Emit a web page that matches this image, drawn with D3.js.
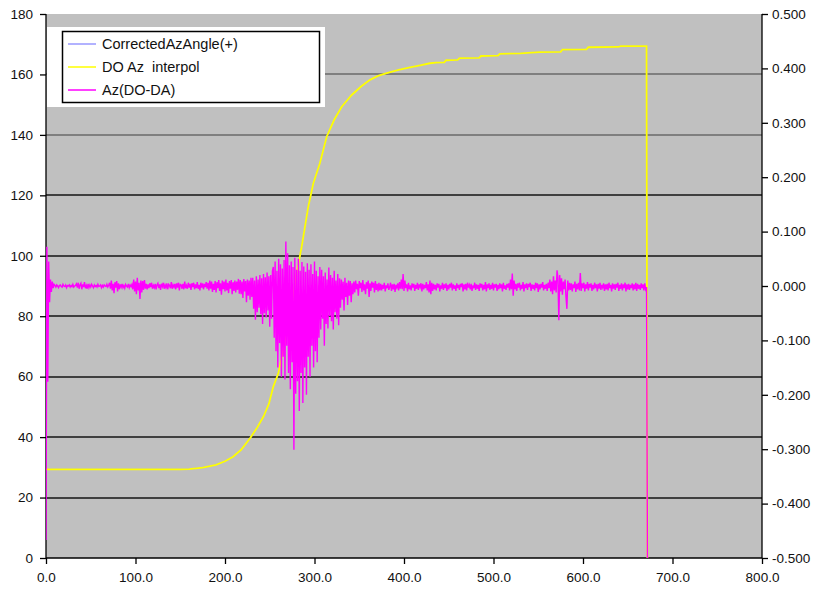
<!DOCTYPE html>
<html>
<head>
<meta charset="utf-8">
<script src="https://cdn.jsdelivr.net/npm/d3@7"></script>
<style>
  html, body { margin: 0; padding: 0; background: #fff; }
  svg text { font-family: "Liberation Sans", Arial, sans-serif; fill: #111; }
</style>
</head>
<body>
<svg id="chart" width="819" height="596"></svg>
<script>
// ---- data ----
const leftTicks = [0, 20, 40, 60, 80, 100, 120, 140, 160, 180];
const rightTicks = [-0.5, -0.4, -0.3, -0.2, -0.1, 0, 0.1, 0.2, 0.3, 0.4, 0.5];
const xTicks = [0, 100, 200, 300, 400, 500, 600, 700, 800];
const seriesNames = ["CorrectedAzAngle(+)", "DO Az  interpol", "Az(DO-DA)"];
const seriesColors = ["#9999ff", "#ffff00", "#ff00ff"];

// DO Az interpol (left axis, degrees)
const azX = [0, 150, 160, 175, 190, 200, 209, 218, 228, 236, 243, 249, 254, 259.6, 265, 272.6,
  280, 285.7, 293, 298.7, 306, 313.6, 322, 330.4, 341.6, 352, 362, 371, 380.7, 394, 406.7,
  418, 429, 436, 445, 447, 460, 462, 484, 486, 505, 507, 530, 551, 575, 577, 604, 606, 640,
  642, 671, 672];
const azY = [29.3, 29.3, 29.4, 29.9, 30.8, 32, 33.5, 35.8, 39.6, 43.2, 46.8, 51, 56.7, 61.1, 68.8, 79.8,
  94.2, 103, 116.2, 124, 130.6, 139.4, 145, 149.3, 153.2, 156, 158.2, 159.5, 160.4, 161.5, 162.3,
  163, 163.7, 163.9, 164.0, 164.7, 164.8, 165.4, 165.5, 166.1, 166.2, 166.8, 167.0, 167.4, 167.5,
  168.2, 168.3, 169.0, 169.1, 169.4, 169.4, 0];

// CorrectedAzAngle(+) follows the interpolated azimuth
const corrX = azX;
const corrY = azY;

// Az(DO-DA) (right axis), one sample per unit of x, starting at x = 0
const diffStep = 1;
const diffY = [
  // 0-9
  -0.467, 0.072, -0.176, 0.045, -0.030, 0.012, -0.011, 0.008, -0.004, 0.003,
  // 10-33
  0.001, -0.002, 0.002, 0.000, -0.003, 0.001, 0.002, -0.001, -0.002, 0.003,
  0.000, -0.001, 0.002, -0.003, 0.001, 0.000, 0.002, -0.002, 0.001, -0.001,
  0.003, -0.002, 0.000, 0.001,
  // 34-49
  0.004, -0.003, 0.006, -0.005, 0.002, 0.005, -0.006, 0.003, -0.002, 0.007,
  -0.004, 0.001, -0.005, 0.004, -0.003, 0.002,
  // 50-70
  -0.002, 0.003, 0.000, -0.003, 0.002, -0.001, 0.001, -0.002, 0.003, -0.001,
  0.000, 0.002, -0.003, 0.001, -0.002, 0.002, 0.000, -0.001, 0.003, -0.002,
  0.001,
  // 71-83
  0.006, -0.005, 0.010, -0.008, 0.004, -0.013, 0.007, -0.003, 0.009, -0.010,
  0.005, -0.006, 0.003,
  // 84-96
  -0.002, 0.004, -0.003, 0.001, -0.004, 0.003, 0.000, -0.002, 0.004, -0.003,
  0.002, -0.001, 0.003,
  // 97-113
  -0.006, 0.012, -0.010, 0.008, -0.015, 0.015, -0.008, 0.006, -0.024, 0.010,
  -0.012, 0.009, -0.007, 0.011, -0.005, 0.004, -0.006,
  // 114-180
  0.003, -0.004, 0.005, -0.002, 0.006, -0.005, 0.001, -0.003, 0.004, -0.006,
  0.002, 0.005, -0.004, 0.003, -0.007, 0.004, -0.001, 0.006, -0.005, 0.002,
  -0.003, 0.005, -0.006, 0.003, 0.001, -0.004, 0.007, -0.005, 0.002, -0.002,
  0.004, -0.006, 0.005, -0.003, 0.006, -0.008, 0.003, 0.002, -0.005, 0.004,
  -0.006, 0.008, -0.004, 0.001, -0.005, 0.006, -0.003, 0.004, -0.007, 0.005,
  -0.002, 0.006, -0.006, 0.003, -0.004, 0.007, -0.005, 0.002, -0.008, 0.006,
  -0.003, 0.005, -0.006, 0.004, -0.002, 0.007, -0.005,
  // 181-216
  0.006, -0.008, 0.010, -0.005, 0.008, -0.011, 0.004, -0.007, 0.009, -0.012,
  0.007, -0.004, 0.011, -0.009, 0.005, -0.016, 0.010, -0.006, 0.008, -0.010,
  0.012, -0.008, 0.006, -0.013, 0.009, -0.005, 0.011, -0.015, 0.007, -0.009,
  0.010, -0.012, 0.008, -0.007, 0.013, -0.014,
  // 217-230
  0.011, -0.015, 0.008, -0.022, 0.013, -0.010, 0.009, -0.030, 0.012, -0.018,
  0.010, -0.025, 0.015, -0.020,
  // 231-253
  0.015, -0.042, 0.010, -0.062, 0.018, -0.048, 0.012, -0.040, 0.020, -0.052,
  0.014, -0.070, 0.022, -0.050, 0.016, -0.058, 0.025, -0.045, 0.018, -0.075,
  0.020, -0.060, 0.028,
  // 254-264
  0.035, -0.095, 0.045, -0.120, 0.028, -0.150, 0.050, -0.105, 0.040, -0.167,
  0.032,
  // 265-272
  -0.130, 0.048, -0.172, 0.082, -0.110, 0.060, -0.160, 0.038,
  // 273-280
  -0.190, 0.045, -0.140, 0.035, -0.301, 0.052, -0.198, 0.030,
  // 281-292
  -0.175, 0.050, -0.230, 0.028, -0.160, 0.044, -0.215, 0.036, -0.150, 0.026,
  -0.200, 0.042,
  // 293-306
  -0.130, 0.030, -0.167, 0.040, -0.110, 0.022, -0.150, 0.045, -0.120, 0.028,
  -0.140, 0.018, -0.095, 0.035,
  // 307-328
  -0.080, 0.030, -0.060, 0.018, -0.110, 0.025, -0.070, 0.012, -0.078, 0.034,
  -0.055, 0.020, -0.065, 0.015, -0.080, 0.028, -0.048, 0.010, -0.060, 0.022,
  -0.072, 0.014,
  // 329-343
  -0.040, 0.012, -0.025, 0.008, -0.045, 0.015, -0.020, 0.006, -0.035, 0.010,
  -0.018, 0.009, -0.030, 0.005, -0.015,
  // 344-373
  0.008, -0.012, 0.010, -0.006, 0.004, -0.018, 0.009, -0.004, 0.006, -0.011,
  0.011, -0.008, 0.003, -0.015, 0.007, -0.005, 0.010, -0.020, 0.005, -0.009,
  0.008, -0.003, 0.006, -0.012, 0.009, -0.007, 0.004, -0.010, 0.006, -0.008,
  // 374-520
  0.004, -0.008, 0.002, -0.005, 0.006, -0.010, 0.001, -0.004, 0.005, -0.007,
  -0.002, 0.006, -0.009, 0.003, -0.006, 0.004, -0.011, 0.002, -0.003, 0.005,
  -0.008, 0.007, -0.005, 0.012, -0.006, 0.022, -0.009, 0.010, -0.004, 0.003,
  -0.010, 0.006, -0.006, 0.001, -0.008, 0.005, -0.003, 0.004, -0.009, 0.002,
  -0.005, 0.006, -0.007, 0.003, -0.002, 0.005, -0.010, 0.004, -0.006, 0.002,
  -0.004, 0.007, -0.008, 0.003, -0.012, 0.010, -0.015, 0.006, -0.009, 0.004,
  -0.006, 0.002, -0.008, 0.005, -0.003, 0.004, -0.010, 0.001, -0.005, 0.006,
  -0.007, 0.003, -0.004, 0.005, -0.009, 0.002, -0.006, 0.004, -0.003, 0.006,
  -0.008, 0.003, -0.005, 0.001, -0.009, 0.005, -0.004, 0.002, -0.007, 0.004,
  -0.002, 0.005, -0.010, 0.003, -0.006, 0.004, -0.008, 0.006, -0.003, 0.002,
  -0.006, 0.004, -0.009, 0.001, -0.004, 0.006, -0.007, 0.003, -0.005, 0.002,
  -0.009, 0.005, -0.003, 0.004, -0.008, 0.002, -0.006, 0.007, -0.010, 0.003,
  -0.004, 0.005, -0.007, 0.002, -0.005, 0.006, -0.008, 0.003, -0.003, 0.004,
  -0.009, 0.002, -0.006, 0.005, -0.004, 0.003, -0.010, 0.006, -0.005, 0.001,
  -0.007, 0.004, -0.003, 0.005, -0.008, 0.012, -0.006,
  // 521-523
  0.023, -0.018, 0.010,
  // 524-562
  -0.006, 0.004, -0.009, 0.005, -0.003, 0.006, -0.008, 0.002, -0.005, 0.007,
  -0.010, 0.003, -0.004, 0.005, -0.007, 0.004, -0.002, 0.006, -0.009, 0.003,
  -0.005, 0.002, -0.008, 0.006, -0.004, 0.005, -0.011, 0.003, -0.006, 0.004,
  -0.003, 0.007, -0.008, 0.002, -0.005, 0.004, -0.009, 0.006, -0.004,
  // 563-585
  0.012, -0.010, 0.008, -0.015, 0.018, -0.008, 0.010, -0.012, 0.029, 0.015,
  -0.063, 0.020, -0.010, 0.014, -0.016, 0.008, -0.006, 0.012, -0.020, -0.042,
  0.010, -0.008, 0.006,
  // 586-671
  -0.007, 0.005, -0.010, 0.003, -0.004, 0.008, -0.011, 0.004, -0.006, 0.006,
  -0.008, 0.024, -0.009, 0.005, -0.004, 0.006, -0.010, 0.003, -0.005, 0.007,
  -0.008, 0.004, -0.003, 0.005, -0.009, 0.002, -0.006, 0.006, -0.004, 0.003,
  -0.010, 0.004, -0.005, 0.006, -0.007, 0.002, -0.003, 0.005, -0.009, 0.003,
  -0.006, 0.004, -0.008, 0.006, -0.004, 0.002, -0.010, 0.005, -0.005, 0.003,
  -0.007, 0.004, -0.003, 0.006, -0.009, 0.002, -0.005, 0.005, -0.008, 0.003,
  -0.004, 0.006, -0.010, 0.003, -0.006, 0.004, -0.007, 0.002, -0.004, 0.005,
  -0.008, 0.003, -0.006, 0.006, -0.009, 0.004, -0.005, 0.002, -0.007, 0.005,
  -0.004, 0.003, -0.008, 0.005, -0.006, -0.002,
  // 672
  -0.500
];

// ---- layout ----
const svg = d3.select("#chart");
const plot = { left: 46, right: 762, top: 14, bottom: 558 };
const tickFont = 13.5;
const legendFont = 14.5;

const x = d3.scaleLinear().domain([0, 800]).range([plot.left, plot.right]);
const yL = d3.scaleLinear().domain([0, 180]).range([plot.bottom, plot.top]);
const yR = d3.scaleLinear().domain([-0.5, 0.5]).range([plot.bottom, plot.top]);

svg.append("rect").attr("width", 819).attr("height", 596).attr("fill", "#fff");

// plot area
svg.append("rect")
  .attr("x", plot.left).attr("y", plot.top)
  .attr("width", plot.right - plot.left).attr("height", plot.bottom - plot.top)
  .attr("fill", "#c0c0c0");

// horizontal gridlines
svg.append("g").selectAll("line")
  .data(leftTicks.filter(d => d > 0 && d < 180))
  .join("line")
  .attr("x1", plot.left).attr("x2", plot.right)
  .attr("y1", d => Math.round(yL(d))).attr("y2", d => Math.round(yL(d)))
  .attr("stroke", d => d >= 140 ? "#6a6a6a" : "#141414")
  .attr("stroke-width", 1.6);

// axes
const leftAxis = svg.append("g")
  .attr("transform", `translate(${plot.left},0)`)
  .call(d3.axisLeft(yL).tickValues(leftTicks).tickSize(6).tickPadding(7).tickFormat(d3.format("d")));
const rightAxis = svg.append("g")
  .attr("transform", `translate(${plot.right},0)`)
  .call(d3.axisRight(yR).tickValues(rightTicks).tickSize(6).tickPadding(4)
    .tickFormat(d => d3.format(".3f")(d).replace("−", "-")));
const bottomAxis = svg.append("g")
  .attr("transform", `translate(0,${plot.bottom})`)
  .call(d3.axisBottom(x).tickValues(xTicks).tickSize(6).tickPadding(8).tickFormat(d3.format(".1f")));

[leftAxis, rightAxis, bottomAxis].forEach(g => {
  g.select(".domain").attr("stroke", "#000").attr("stroke-width", 1.3);
  g.selectAll(".tick line").attr("stroke", "#000").attr("stroke-width", 1.3);
  g.selectAll(".tick text").attr("font-family", "Liberation Sans, Arial, sans-serif")
    .attr("font-size", tickFont).attr("fill", "#111");
});
// axis lines without end caps
leftAxis.select(".domain").attr("d", `M0,${plot.top}V${plot.bottom}`);
rightAxis.select(".domain").attr("d", `M0,${plot.top}V${plot.bottom}`);
bottomAxis.select(".domain").attr("d", `M${plot.left},0H${plot.right}`);

// series
svg.append("clipPath").attr("id", "plotClip").append("rect")
  .attr("x", plot.left).attr("y", plot.top - 1)
  .attr("width", plot.right - plot.left).attr("height", plot.bottom - plot.top + 2);
const series = svg.append("g").attr("clip-path", "url(#plotClip)");

const lineLeft = d3.line().x(d => x(d[0])).y(d => yL(d[1]));
const lineRight = d3.line().x(d => x(d[0])).y(d => yR(d[1]));

series.append("path")
  .datum(corrX.map((v, i) => [v, corrY[i]]))
  .attr("d", lineLeft).attr("fill", "none")
  .attr("stroke", seriesColors[0]).attr("stroke-width", 1.2);

series.append("path")
  .datum(azX.map((v, i) => [v, azY[i]]))
  .attr("d", lineLeft).attr("fill", "none")
  .attr("stroke", seriesColors[1]).attr("stroke-width", 1.8);

series.append("path")
  .datum(diffY.map((v, i) => [i * diffStep, v]))
  .attr("d", lineRight).attr("fill", "none")
  .attr("stroke", seriesColors[2]).attr("stroke-width", 1.4);

// legend
const legend = svg.append("g");
legend.append("rect")
  .attr("x", 47).attr("y", 27).attr("width", 278).attr("height", 80)
  .attr("fill", "#fff");
legend.append("rect")
  .attr("x", 62.5).attr("y", 31.5).attr("width", 257).attr("height", 71)
  .attr("fill", "#fff").attr("stroke", "#000").attr("stroke-width", 1.5);
const rows = legend.selectAll("g.row")
  .data(seriesNames)
  .join("g").attr("class", "row")
  .attr("transform", (d, i) => `translate(0,${44 + i * 23})`);
rows.append("line")
  .attr("x1", 68).attr("x2", 96).attr("y1", 0).attr("y2", 0)
  .attr("stroke", (d, i) => seriesColors[i]).attr("stroke-width", 1.5);
rows.append("text")
  .attr("x", 102).attr("y", 0).attr("dy", "0.35em")
  .attr("font-size", legendFont)
  .style("white-space", "pre")
  .text(d => d);
</script>
</body>
</html>
